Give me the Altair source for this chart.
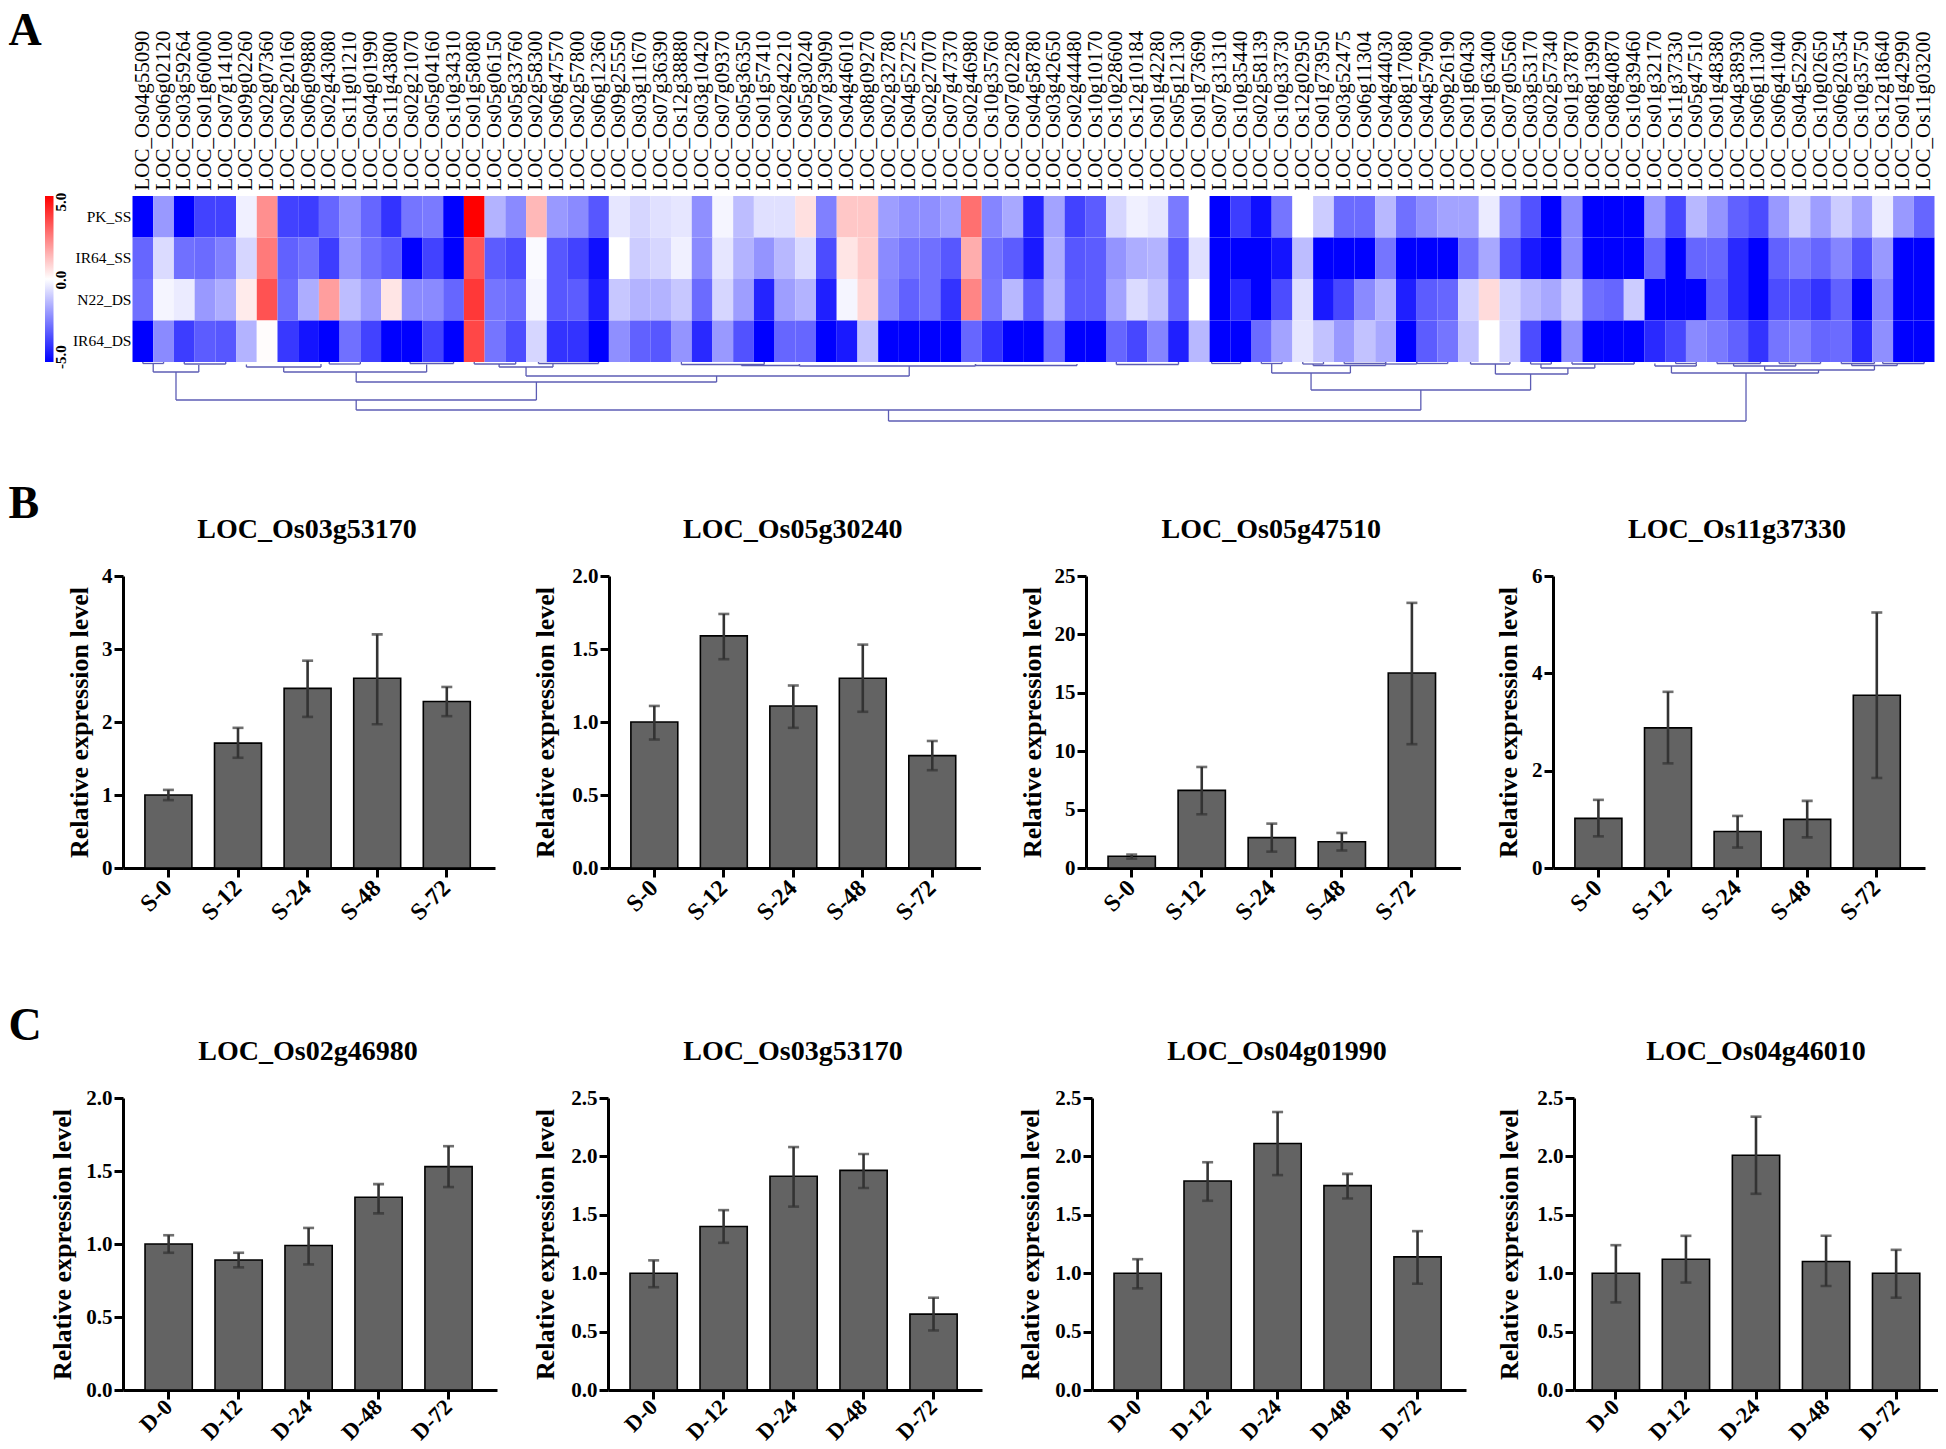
import altair as alt
import pandas as pd

SERIF = "Liberation Serif"

suffix = """04g55090 06g02120 03g59264 01g60000 07g14100 09g02260 02g07360 02g20160 06g09880 02g43080
11g01210 04g01990 11g43800 02g21070 05g04160 10g34310 01g58080 05g06150 05g33760 02g58300
06g47570 02g57800 06g12360 09g25550 03g11670 07g36390 12g38880 03g10420 07g09370 05g36350
01g57410 02g42210 05g30240 07g39090 04g46010 08g09270 02g32780 04g52725 02g27070 07g47370
02g46980 10g35760 07g02280 04g58780 03g42650 02g44480 10g10170 10g28600 12g10184 01g42280
05g12130 01g73690 07g31310 10g35440 02g58139 10g33730 12g02950 01g73950 03g52475 06g11304
04g44030 08g17080 04g57900 09g26190 01g60430 01g63400 07g05560 03g53170 02g57340 01g37870
08g13990 08g40870 10g39460 01g32170 11g37330 05g47510 01g48380 04g38930 06g11300 06g41040
04g52290 10g02650 06g20354 10g35750 12g18640 01g42990 11g03200""".split()
genes = ["LOC_Os" + s for s in suffix]

samples = ["PK_SS", "IR64_SS", "N22_DS", "IR64_DS"]
pk_ss = [-5,-2,-5,-3.7,-3.7,-.3,2.2,-3.7,-3.8,-3,
         -2.2,-3,-4,-2.7,-2.6,-5,5,-1.5,-2.3,1.4,
         -2,-2.3,-3.3,-.5,-.8,-.6,-.5,-2.2,-.2,-1.3,
         -.6,-.6,.6,-2.5,1.1,1.1,-1.9,-2.2,-2.2,-1.9,
         2.8,-2.4,-1.7,-4.3,-1.8,-3.7,-3.2,-.8,-.3,-.5,
         -2.6,0,-5,-3.8,-4.7,-2.7,0,-1,-2.9,-2.9,
         -1.4,-2.8,-2.2,-1.8,-1.8,-.4,-2.3,-3.4,-5,-2.3,
         -5,-5,-5,-2,-3.6,-1.4,-2.1,-3.1,-3.5,-2,
         -1,-1.9,-1,-1.8,-.4,-2,-3]
ir64_ss = [-3,-.7,-2.8,-2.9,-2.5,-.8,2.6,-3.1,-2.8,-3.8,
           -2.1,-2.8,-3.2,-5,-3.7,-5,3.3,-3.2,-3.5,-.1,
           -3.3,-3.7,-4.7,0,-1,-.8,-.3,-2.3,-.5,-1.5,
           -2.1,-1.4,-.7,-3.5,.5,1,-2.3,-2.7,-2.8,-3.3,
           1.6,-2.8,-3.2,-4.5,-1.6,-3.3,-3.2,-2.1,-1.6,-1.5,
           -3.2,-.6,-5,-5,-5,-4.6,-1.3,-5,-5,-5,
           -2.7,-5,-5,-5,-2.8,-1.7,-3.4,-4.5,-5,-2.3,
           -5,-5,-5,-3,-5,-3,-3,-4.2,-5,-3.1,
           -2.6,-3,-2.4,-3.4,-2,-5,-5]
n22_ds = [-2.8,-.2,-.4,-2,-1.6,.4,3.4,-2.9,-1.6,1.9,
          -1.3,-2,.5,-2.3,-2.3,-3,3.9,-2.7,-2.9,-.2,
          -3.3,-3.2,-4.4,-1.1,-1.5,-1.5,-1.1,-2.9,-.8,-1.9,
          -4.3,-1.9,-1.5,-4.4,-.2,.8,-2.4,-3.1,-2.8,-4,
          2.4,-2.7,-1.4,-3.2,-1.5,-3.2,-3.2,-1.8,-.7,-1.2,
          -3.1,0,-5,-4.2,-5,-3.5,-.6,-4.5,-3.6,-2.3,
          -1.5,-4.4,-3.2,-3,-.9,.7,-.9,-1.4,-1.7,-.9,
          -2.8,-3,-1,-5,-5,-5,-3.2,-4.2,-5,-3.5,
          -3.5,-4,-3.1,-5,-2.4,-5,-5]
ir64_ds = [-5,-2.3,-3.8,-3.2,-3.3,-1.5,.05,-3.9,-4.6,-5,
           -2.8,-3.7,-5,-5,-3.7,-5,3.6,-2.7,-3.5,-.8,
           -4,-4,-5,-2.2,-3.1,-3.3,-2.1,-4.2,-2,-3.4,
           -5,-3,-3,-5,-4.5,-1.2,-5,-5,-5,-5,
           -3,-4,-5,-5,-2.9,-5,-5,-3,-3.6,-2.4,
           -4.4,-1.4,-5,-5,-2.9,-1.8,-.5,-1.2,-2,-1.2,
           -1.7,-5,-3.2,-2.7,-1.2,0,-.9,-3.5,-5,-2.2,
           -5,-5,-5,-4.2,-3.6,-2.3,-2.6,-3.1,-4,-2.7,
           -2.5,-3,-2.9,-4.2,-2.2,-5,-5]

# dendrogram merges: left column, right column, merge height, left child, right child
d_left  = [36.5,10.8,2.1,1.0,10.8,7.3,5.5,19.0,17.7,32.2,26.5,29.4,40.7,47.5,52.1,55.0,54.5,57.0,56.5,58.5,60.5,62.0,
           56.9,65.8,64.6,68.0,67.5,69.5,73.5,74.5,74.3,78.8,77.3,76.5,79.5,83.0,82.5,84.5,9.5,13.4,0.5,2.5,16.5,19.6]
d_right = [77.9,62.2,19.5,3.2,28.2,14.2,9.1,37.5,20.3,40.7,30.5,32.2,45.6,50.5,53.5,58.8,55.5,60.5,57.5,60.5,62.0,63.5,
           67.5,69.3,66.5,70.6,68.5,72.5,75.5,75.5,81.4,84.1,80.3,78.6,81.5,85.2,84.1,86.5,11.0,15.5,1.5,4.5,18.5,22.5]
d_h     = [59,48,38,10,20,10,5,14,5,4,2.5,3.5,3.5,2.5,1.5,11,1.5,3.5,2,1.5,2,1.5,
           28,12,2,6,2,2,4,1.5,11,8,4,1.5,1.5,3.5,1.5,1.5,2,1.5,1.5,2,2,1.5]
d_cl    = [48,38,10,2,10,5,2.5,5,2,2,0,2,2,0,0,1.5,0,2,0,0,0,0,
           11,2,0,2,0,0,1.5,0,4,4,1.5,0,0,1.5,0,0,0,0,0,0,0,0]
d_cr    = [11,28,20,3,14,2.5,2,4,2,2,0,2,2,0,0,3.5,0,1.5,0,0,0,0,
           12,6,0,2,0,0,1.5,0,8,3.5,1.5,0,0,1,0,0,0,0,0,0,0,0]

TIMES_S = ["S-0", "S-12", "S-24", "S-48", "S-72"]
TIMES_D = ["D-0", "D-12", "D-24", "D-48", "D-72"]

panels_b = [
    dict(title="LOC_Os03g53170", top=4, ticks=[0,1,2,3,4], fmt="d",
         bar=[1.0,1.71,2.46,2.6,2.28], hi=[1.07,1.92,2.84,3.2,2.48], lo=[.93,1.51,2.07,1.97,2.08]),
    dict(title="LOC_Os05g30240", top=2, ticks=[0,.5,1,1.5,2], fmt=".1f",
         bar=[1.0,1.59,1.11,1.30,.77], hi=[1.11,1.74,1.25,1.53,.87], lo=[.88,1.43,.96,1.07,.67]),
    dict(title="LOC_Os05g47510", top=25, ticks=[0,5,10,15,20,25], fmt="d",
         bar=[1.0,6.65,2.6,2.25,16.7], hi=[1.15,8.65,3.8,3.0,22.7], lo=[.8,4.6,1.4,1.5,10.6]),
    dict(title="LOC_Os11g37330", top=6, ticks=[0,2,4,6], fmt="d",
         bar=[1.02,2.88,.75,1.0,3.55], hi=[1.4,3.62,1.07,1.38,5.25], lo=[.65,2.15,.42,.63,1.85]),
]
panels_c = [
    dict(title="LOC_Os02g46980", top=2, ticks=[0,.5,1,1.5,2], fmt=".1f",
         bar=[1.0,.89,.99,1.32,1.53], hi=[1.06,.94,1.11,1.41,1.67], lo=[.94,.84,.86,1.21,1.39]),
    dict(title="LOC_Os03g53170", top=2.5, ticks=[0,.5,1,1.5,2,2.5], fmt=".1f",
         bar=[1.0,1.40,1.83,1.88,.65], hi=[1.11,1.54,2.08,2.02,.79], lo=[.88,1.26,1.57,1.73,.51]),
    dict(title="LOC_Os04g01990", top=2.5, ticks=[0,.5,1,1.5,2,2.5], fmt=".1f",
         bar=[1.0,1.79,2.11,1.75,1.14], hi=[1.12,1.95,2.38,1.85,1.36], lo=[.87,1.62,1.84,1.64,.91]),
    dict(title="LOC_Os04g46010", top=2.5, ticks=[0,.5,1,1.5,2,2.5], fmt=".1f",
         bar=[1.0,1.12,2.01,1.10,1.0], hi=[1.24,1.32,2.34,1.32,1.20], lo=[.75,.92,1.68,.89,.79]),
]

def letter(ch, x, y):
    return alt.Chart(pd.DataFrame({"t": [ch]})).mark_text(
        align="left", baseline="alphabetic", font=SERIF, fontWeight="bold", fontSize=46, color="black"
    ).encode(x=alt.value(x), y=alt.value(y), text="t:N")

def bar_panel(p, cats, slot, title_x, plot_w=372, plot_h=292, extra=None, pad_outer=0.335, head_w=None,
              band_align=0.47, x_font=24, x_pad=7):
    df = pd.DataFrame({"c": cats, "bar": p["bar"], "hi": p["hi"], "lo": p["lo"]})
    x = alt.X("c:N", sort=cats, title=None,
              scale=alt.Scale(domain=cats, range=[0, plot_w], paddingInner=0.325, paddingOuter=pad_outer,
                              align=band_align),
              axis=alt.Axis(labelAngle=315, labelAlign="right", labelBaseline="middle",
                            labelFont=SERIF, labelFontWeight="bold", labelFontSize=x_font, labelColor="black",
                            labelPadding=x_pad, labelOverlap=False, labelFlush=False,
                            domainColor="black", domainWidth=3, tickColor="black", tickWidth=3, tickSize=9))
    y = alt.Y("bar:Q", title="Relative expression level",
              scale=alt.Scale(domain=[0, p["top"]], nice=False),
              axis=alt.Axis(values=p["ticks"], format=p["fmt"], grid=False, labelFont=SERIF,
                            labelFontWeight="bold", labelFontSize=21, labelColor="black", labelPadding=2,
                            domainColor="black", domainWidth=3, tickColor="black", tickWidth=3, tickSize=9,
                            titleFont=SERIF, titleFontWeight="bold", titleFontSize=26, titleColor="black",
                            titleX=title_x, titleBaseline="middle"))
    base = alt.Chart(df)
    bars = base.mark_bar(color="#636363", stroke="black", strokeWidth=1.6).encode(x=x, y=y)
    stem = base.mark_rule(color="#333333", strokeWidth=2.6).encode(
        x=alt.X("c:N", sort=cats), y=alt.Y("lo:Q"), y2="hi:Q")
    cap_hi = base.mark_tick(color="#333333", orient="horizontal", size=11, thickness=2.6).encode(
        x=alt.X("c:N", sort=cats), y=alt.Y("hi:Q"))
    cap_lo = base.mark_tick(color="#333333", orient="horizontal", size=11, thickness=2.6).encode(
        x=alt.X("c:N", sort=cats), y=alt.Y("lo:Q"))
    head = alt.Chart(pd.DataFrame({"t": [p["title"]]})).mark_text(
        align="center", baseline="alphabetic", font=SERIF, fontWeight="bold", fontSize=28, color="black"
    ).encode(x=alt.value((head_w or plot_w) / 2 - 2), y=alt.value(-38), text="t:N")
    layers = [bars, stem, cap_hi, cap_lo, head]
    if extra is not None:
        layers.append(extra)
    return alt.layer(*layers).properties(width=slot, height=plot_h)

# heat map
records = []
for s, vals in zip(samples, [pk_ss, ir64_ss, n22_ds, ir64_ds]):
    for g, v in zip(genes, vals):
        records.append({"gene": g, "sample": s, "v": v})
heat_df = pd.DataFrame(records)

X_RANGE = [9.5, 1811.5]
heat = alt.Chart(heat_df).mark_rect().encode(
    x=alt.X("gene:N", sort=genes, title=None,
            scale=alt.Scale(domain=genes, range=X_RANGE, padding=0),
            axis=alt.Axis(orient="top", labelAngle=270, labelAlign="left", labelBaseline="middle",
                          labelFont=SERIF, labelFontSize=21, labelColor="black", labelPadding=6,
                          labelOverlap=False, labelLimit=400, domain=False, ticks=False)),
    y=alt.Y("sample:N", sort=samples, title=None,
            scale=alt.Scale(domain=samples, padding=0),
            axis=alt.Axis(labelFont=SERIF, labelFontSize=15.5, labelColor="black", labelPadding=-8,
                          domain=False, ticks=False)),
    color=alt.Color("v:Q",
                    scale=alt.Scale(domain=[-5, 0, 5], range=["#0000ff", "#ffffff", "#ff0000"], interpolate="rgb"),
                    legend=alt.Legend(orient="none", legendX=-78, legendY=0, title=None, direction="vertical",
                                      gradientLength=166, gradientThickness=8.5, values=[-5, 0, 5],
                                      labelOpacity=0, labelFontSize=1, gradientStrokeWidth=0)),
)

def bar_label(text, pos):
    return alt.Chart(pd.DataFrame({"t": [text]})).mark_text(
        angle=270, align="center", baseline="middle", font=SERIF, fontWeight="bold", fontSize=15, color="black"
    ).encode(x=alt.value(-62), y=alt.value(pos), text="t:N")

heat_all = alt.layer(heat, bar_label("5.0", 6), bar_label("0.0", 84), bar_label("-5.0", 161),
                     letter("A", -114.5, -151)).properties(width=1812, height=166)

d_df = pd.DataFrame({"l": d_left, "r": d_right, "h": d_h, "cl": d_cl, "cr": d_cr})
DC = "#5c5cb4"
dx_scale = alt.Scale(domain=[0, 87], range=X_RANGE)
dy_scale = alt.Scale(domain=[60, 0])
d_base = alt.Chart(d_df)
d_h_rule = d_base.mark_rule(color=DC, strokeWidth=1.3).encode(
    x=alt.X("l:Q", scale=dx_scale, axis=None), x2="r:Q", y=alt.Y("h:Q", scale=dy_scale, axis=None))
d_l_rule = d_base.mark_rule(color=DC, strokeWidth=1.3).encode(
    x=alt.X("l:Q", scale=dx_scale, axis=None), y=alt.Y("cl:Q", scale=dy_scale, axis=None), y2="h:Q")
d_r_rule = d_base.mark_rule(color=DC, strokeWidth=1.3).encode(
    x=alt.X("r:Q", scale=dx_scale, axis=None), y=alt.Y("cr:Q", scale=dy_scale, axis=None), y2="h:Q")
dendro = alt.layer(d_h_rule, d_l_rule, d_r_rule).properties(width=1812, height=60)

row_a = alt.vconcat(heat_all, dendro, spacing=0, bounds="flush")

row_b = alt.hconcat(
    bar_panel(panels_b[0], TIMES_S, 485.1, -44, 372, extra=letter("B", -114.5, -58)),
    bar_panel(panels_b[1], TIMES_S, 477, -64, 371.4),
    bar_panel(panels_b[2], TIMES_S, 466.9, -54, 374.4),
    bar_panel(panels_b[3], TIMES_S, 372, -45, 372),
    spacing=0, bounds="flush")

row_c = alt.hconcat(
    bar_panel(panels_c[0], TIMES_D, 484.5, -61, 374, extra=letter("C", -114.5, -58), x_font=22.5, x_pad=4),
    bar_panel(panels_c[1], TIMES_D, 484, -63, 374, x_font=22.5, x_pad=4),
    bar_panel(panels_c[2], TIMES_D, 482, -62, 374, x_font=22.5, x_pad=4),
    bar_panel(panels_c[3], TIMES_D, 364, -65, 364, pad_outer=0.26, head_w=368, band_align=0.5, x_font=22.5, x_pad=4),
    spacing=0, bounds="flush")

chart = alt.vconcat(alt.vconcat(row_a, row_b, spacing=59), row_c, spacing=78).properties(
    padding=0, background="white"
).configure_view(stroke=None)

chart.save("out.html", embed_options={"renderer": "svg", "actions": False})
